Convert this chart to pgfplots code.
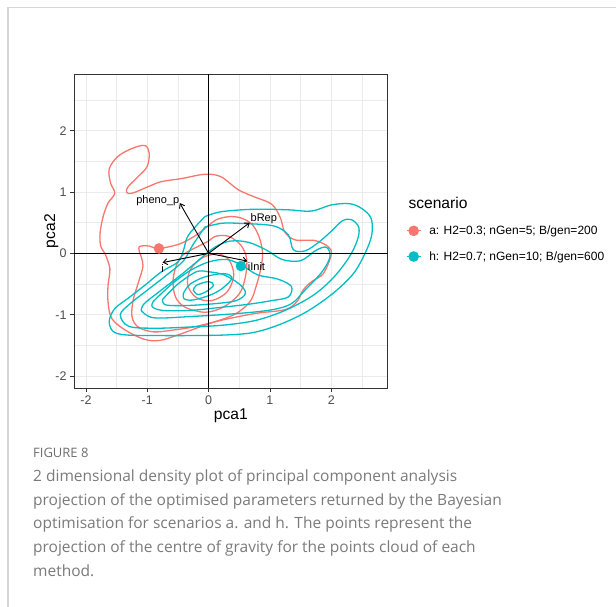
\documentclass[border=0pt]{standalone}
\usepackage{pgfplots}
\pgfplotsset{compat=1.18}
\usepackage{fontspec}
\setmainfont{Liberation Sans}
\newfontfamily\capfont{Open Sans}
\usetikzlibrary{arrows.meta}
\definecolor{redc}{HTML}{F8766D}
\definecolor{tealc}{HTML}{00BFC4}
\definecolor{gridc}{HTML}{EBEBEB}
\definecolor{framec}{HTML}{333333}
\definecolor{ticklab}{HTML}{4D4D4D}
\definecolor{capgray}{HTML}{7A7A7A}
\definecolor{figgray}{HTML}{6E6E6E}
\definecolor{bordergray}{HTML}{D6D6D6}
\begin{document}
\begin{tikzpicture}
\useasboundingbox (0,0) rectangle (616bp,607bp);
\draw[bordergray, line width=1.5bp] (8bp,0bp) -- (8bp,599.5bp) -- (616bp,599.5bp);
\begin{axis}[
  at={(74bp,219bp)}, anchor=south west, scale only axis,
  width=313.7bp, height=313.7bp,
  xmin=-2.195, xmax=2.92, ymin=-2.195, ymax=2.92,
  xtick={-2,-1,0,1,2}, ytick={-2,-1,0,1,2},
  xticklabels={-2,-1,0,1,2}, yticklabels={-2,-1,0,1,2},
  minor xtick={-1.5,-0.5,0.5,1.5,2.5}, minor ytick={-1.5,-0.5,0.5,1.5,2.5},
  grid=both,
  major grid style={gridc, line width=0.8bp},
  minor grid style={gridc, line width=0.45bp},
  axis line style={framec, line width=0.8bp},
  tick align=outside, major tick length=4bp, minor tick length=0pt,
  tick pos=left,
  major tick style={framec, line width=0.8bp},
  tick label style={font=\fontsize{12.5bp}{14bp}\selectfont, text=ticklab},
  xlabel={pca1}, ylabel={pca2},
  label style={font=\fontsize{15.6bp}{18bp}\selectfont},
  xlabel style={at={(axis description cs:0.5,-0.09)}, anchor=center},
  ylabel style={at={(axis description cs:-0.072,0.5)}, anchor=center},
  legend cell align=left,
  legend style={at={(axis description cs:1.058,0.46)}, anchor=west, draw=none, fill=none,
    font=\fontsize{12bp}{14.5bp}\selectfont, row sep=11.5bp, inner sep=0pt,
    /tikz/every odd column/.append style={column sep=6bp}},
  legend image code/.code={\draw[mark repeat=2,mark phase=2,#1] plot coordinates {(0bp,0bp) (7bp,0bp) (14bp,0bp)};},
]
% ---- red contours (scenario a)
\addplot[redc, line width=1.3bp, smooth, tension=0.55, forget plot] coordinates {
(-1.69,0.0) (-1.76,0.12) (-1.77,0.33) (-1.72,0.6) (-1.64,0.82) (-1.53,0.98)
(-1.6,1.15) (-1.62,1.38) (-1.48,1.58) (-1.25,1.71) (-1.04,1.76) (-0.97,1.64)
(-1.0,1.42) (-1.15,1.25) (-1.31,1.09) (-1.34,1.0) (-1.25,0.98) (-0.98,1.09)
(-0.77,1.17) (-0.44,1.22) (-0.06,1.29) (0.2,1.25) (0.48,1.04) (0.75,0.92)
(1.03,0.8) (1.17,0.58) (1.24,0.35) (1.41,0.22) (1.73,0.21) (1.95,0.11)
(2.0,-0.02) (1.87,-0.33) (1.68,-0.46) (1.54,-0.6) (1.46,-0.76) (1.35,-0.87)
(1.19,-0.93) (0.76,-0.98) (0.21,-1.09) (-0.06,-1.17) (-0.5,-1.33) (-0.8,-1.42)
(-1.05,-1.4) (-1.36,-1.25) (-1.58,-1.06) (-1.64,-0.79) (-1.64,-0.52) (-1.61,-0.25)
(-1.69,0.0)};
\addplot[redc, line width=1.3bp, smooth, tension=0.55, forget plot] coordinates {
(-1.12,0.0) (-1.13,0.11) (-0.97,0.12) (-0.82,0.08) (-0.55,0.13) (-0.39,0.19)
(-0.2,0.3) (-0.03,0.43) (0.13,0.55) (0.35,0.6) (0.55,0.57) (0.72,0.46)
(0.83,0.25) (0.88,0.0) (0.85,-0.25) (0.78,-0.52) (0.68,-0.78) (0.45,-0.98)
(0.15,-1.1) (-0.25,-1.2) (-0.58,-1.25) (-0.9,-1.28) (-1.15,-1.2) (-1.25,-1.03)
(-1.23,-0.76) (-1.15,-0.49) (-1.07,-0.2) (-1.12,0.0)};
\addplot[redc, line width=1.3bp, smooth, tension=0.55, forget plot] coordinates {
(0.0,0.2) (-0.2,0.1) (-0.41,-0.02) (-0.52,-0.18) (-0.58,-0.44) (-0.54,-0.71)
(-0.38,-0.88) (-0.05,-0.96) (0.25,-0.87) (0.5,-0.66) (0.6,-0.38) (0.62,-0.08)
(0.52,0.14) (0.32,0.28) (0.12,0.28) (0.0,0.2)};
\addplot[redc, line width=1.3bp, smooth, tension=0.55, forget plot] coordinates {
(0.15,0.0) (0.33,-0.1) (0.41,-0.36) (0.3,-0.63) (0.05,-0.77) (-0.2,-0.72)
(-0.34,-0.52) (-0.3,-0.27) (-0.1,-0.07) (0.15,0.0)};
% ---- teal contours (scenario h)
\addplot[tealc, line width=1.3bp, smooth, tension=0.55, forget plot] coordinates {
(-0.06,0.6) (-0.22,0.43) (-0.35,0.26) (-0.41,0.05) (-0.5,-0.14) (-0.77,-0.3)
(-1.04,-0.52) (-1.31,-0.73) (-1.53,-0.9) (-1.62,-1.1) (-1.56,-1.27) (-1.35,-1.33)
(-0.8,-1.34) (-0.3,-1.34) (0.29,-1.33) (0.73,-1.29) (1.16,-1.16) (1.6,-0.95)
(2.03,-0.65) (2.36,-0.33) (2.55,0.0) (2.66,0.3) (2.65,0.57) (2.5,0.73)
(2.3,0.81) (2.0,0.79) (1.68,0.69) (1.3,0.71) (0.75,0.72) (0.21,0.68) (-0.06,0.6)};
\addplot[tealc, line width=1.3bp, smooth, tension=0.55, forget plot] coordinates {
(-0.06,0.43) (-0.25,0.15) (-0.41,-0.12) (-0.68,-0.35) (-1.0,-0.6) (-1.28,-0.82)
(-1.44,-1.0) (-1.3,-1.19) (-0.85,-1.22) (-0.3,-1.2) (0.24,-1.17) (0.78,-1.09)
(1.27,-0.92) (1.71,-0.68) (2.03,-0.4) (2.28,-0.08) (2.42,0.2) (2.45,0.42)
(2.33,0.55) (2.18,0.53) (2.0,0.36) (1.78,0.17) (1.57,0.04) (1.38,0.06)
(1.3,0.3) (1.05,0.45) (0.48,0.49) (0.21,0.49) (-0.06,0.43)};
\addplot[tealc, line width=1.3bp, smooth, tension=0.55, forget plot] coordinates {
(-1.1,-0.93) (-0.9,-1.05) (-0.3,-1.03) (0.48,-0.98) (1.03,-0.92) (1.35,-0.82)
(1.57,-0.6) (1.85,-0.3) (1.98,-0.05) (1.92,0.1) (1.75,0.05) (1.5,-0.12)
(1.2,-0.1) (0.95,0.05) (0.65,0.18) (0.35,0.2) (0.1,0.1) (-0.15,-0.1)
(-0.45,-0.35) (-0.8,-0.62) (-1.05,-0.82) (-1.1,-0.93)};
\addplot[tealc, line width=1.3bp, smooth, tension=0.55, forget plot] coordinates {
(-0.9,-0.78) (-0.6,-0.5) (-0.3,-0.28) (0.0,-0.14) (0.3,-0.1) (0.55,-0.2)
(0.8,-0.35) (1.13,-0.42) (1.35,-0.54) (1.3,-0.71) (1.03,-0.77) (0.645,-0.83)
(0.2,-0.88) (-0.3,-0.93) (-0.75,-0.93) (-0.92,-0.87) (-0.9,-0.78)};
\addplot[tealc, line width=1.3bp, smooth, tension=0.55, forget plot] coordinates {
(-0.75,-0.75) (-0.5,-0.5) (-0.2,-0.3) (0.0,-0.3) (0.25,-0.35) (0.5,-0.5)
(0.6,-0.65) (0.45,-0.77) (0.1,-0.82) (-0.35,-0.85) (-0.7,-0.84) (-0.75,-0.75)};
\addplot[tealc, line width=1.3bp, smooth, tension=0.55, forget plot] coordinates {
(-0.41,-0.65) (-0.3,-0.5) (-0.05,-0.38) (0.25,-0.33) (0.38,-0.4) (0.25,-0.55)
(0.05,-0.67) (-0.25,-0.76) (-0.4,-0.74) (-0.41,-0.65)};
\addplot[tealc, line width=1.3bp, smooth, tension=0.55, forget plot] coordinates {
(-0.25,-0.6) (-0.2,-0.52) (0.0,-0.46) (0.08,-0.52) (-0.05,-0.63) (-0.18,-0.67) (-0.25,-0.6)};
% ---- reference lines
\addplot[black, line width=1.2bp, forget plot] coordinates {(0,-2.195) (0,2.92)};
\addplot[black, line width=1.2bp, forget plot] coordinates {(-2.195,0) (2.92,0)};
% ---- loading arrows
\addplot[black, line width=0.9bp, -{Straight Barb[length=4bp,width=6bp]}, forget plot] coordinates {(0,0) (-0.47,0.82)};
\addplot[black, line width=0.9bp, -{Straight Barb[length=4bp,width=6bp]}, forget plot] coordinates {(0,0) (0.67,0.5)};
\addplot[black, line width=0.9bp, -{Straight Barb[length=4bp,width=6bp]}, forget plot] coordinates {(0,0) (0.63,-0.125)};
\addplot[black, line width=0.9bp, -{Straight Barb[length=4bp,width=6bp]}, forget plot] coordinates {(0,0) (-0.75,-0.15)};
\node[font=\fontsize{11bp}{13bp}\selectfont] at (axis cs:-0.83,0.86) {pheno\_p};
\node[font=\fontsize{11bp}{13bp}\selectfont] at (axis cs:0.90,0.57) {bRep};
\node[font=\fontsize{11bp}{13bp}\selectfont] at (axis cs:0.78,-0.21) {iInit};
\node[font=\fontsize{11bp}{13bp}\selectfont] at (axis cs:-0.75,-0.25) {i};
% ---- centre of gravity points
\addplot[only marks, mark=*, mark size=5bp, redc, forget plot] coordinates {(-0.81,0.08)};
\addplot[only marks, mark=*, mark size=5bp, tealc, forget plot] coordinates {(0.527,-0.207)};
% ---- legend
\addlegendimage{redc, line width=1.2bp, mark=*, mark size=4.7bp}
\addlegendentry{a: H2=0.3; nGen=5; B/gen=200}
\addlegendimage{tealc, line width=1.2bp, mark=*, mark size=4.7bp}
\addlegendentry{h: H2=0.7; nGen=10; B/gen=600}
\end{axis}
\node[anchor=west, font=\fontsize{15.6bp}{18bp}\selectfont] at (405bp,404bp) {scenario};
% ---- caption
\node[anchor=base west, inner sep=0pt, text=figgray, font=\capfont\fontsize{13bp}{16bp}\selectfont] at (33bp,149bp) {FIGURE 8};
\begin{scope}[every node/.style={anchor=base west, inner sep=0pt, text=capgray, font=\capfont\fontsize{15.5bp}{20bp}\selectfont}]
\node at (33bp,125.5bp) {2 dimensional density plot of principal component analysis};
\node at (33bp,101.9bp) {projection of the optimised parameters returned by the Bayesian};
\node at (33bp,78.3bp) {optimisation for scenarios a. and h. The points represent the};
\node at (33bp,54.6bp) {projection of the centre of gravity for the points cloud of each};
\node at (33bp,31bp) {method.};
\end{scope}
\end{tikzpicture}
\end{document}
